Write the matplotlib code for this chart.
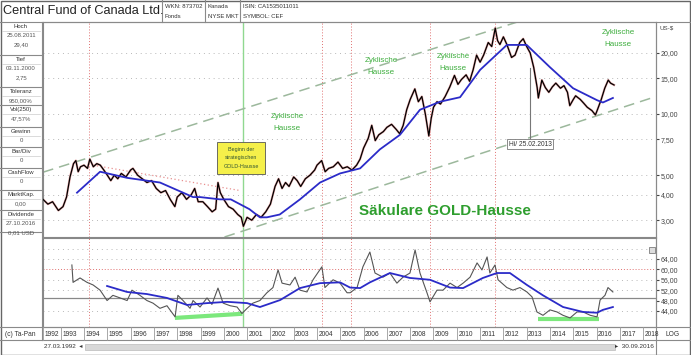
import matplotlib
matplotlib.use("Agg")
import matplotlib.pyplot as plt
from matplotlib.patches import Rectangle

plt.rcParams['font.family'] = ['Liberation Sans', 'DejaVu Sans']

W, H = 691, 355

# --- data ---
price_dates = [1992.24, 1992.45, 1992.65, 1992.9, 1993.1, 1993.25, 1993.4, 1993.55, 1993.65, 1993.75,
               1993.85, 1994.0, 1994.15, 1994.25, 1994.4, 1994.55, 1994.7, 1994.85, 1995.0, 1995.15,
               1995.3, 1995.45, 1995.6, 1995.8, 1996.0, 1996.1, 1996.3, 1996.5, 1996.7, 1996.9,
               1997.1, 1997.3, 1997.5, 1997.7, 1997.9, 1998.0, 1998.2, 1998.4, 1998.6, 1998.75,
               1998.9, 1999.1, 1999.3, 1999.5, 1999.65, 1999.75, 1999.85, 2000.0, 2000.2, 2000.4,
               2000.6, 2000.75, 2000.84, 2001.0, 2001.2, 2001.4, 2001.6, 2001.8, 2002.0, 2002.2,
               2002.35, 2002.5, 2002.65, 2002.8, 2003.0, 2003.15, 2003.3, 2003.5, 2003.7, 2003.9,
               2004.0, 2004.2, 2004.35, 2004.5, 2004.7, 2004.9, 2005.1, 2005.3, 2005.5, 2005.7,
               2005.85, 2006.0, 2006.2, 2006.35, 2006.5, 2006.65, 2006.85, 2007.0, 2007.2, 2007.4,
               2007.55, 2007.7, 2007.85, 2008.0, 2008.2, 2008.35, 2008.5, 2008.65, 2008.8, 2008.9,
               2009.0, 2009.15, 2009.3, 2009.5, 2009.7, 2009.9, 2010.05, 2010.2, 2010.4, 2010.55,
               2010.7, 2010.85, 2011.0, 2011.15, 2011.35, 2011.5, 2011.65, 2011.75, 2011.85, 2012.0,
               2012.15, 2012.35, 2012.5, 2012.7, 2012.85, 2013.0, 2013.15, 2013.3, 2013.45, 2013.5,
               2013.65, 2013.8, 2013.95, 2014.1, 2014.25, 2014.45, 2014.6, 2014.75, 2014.85, 2015.0,
               2015.1, 2015.3, 2015.45, 2015.6, 2015.8, 2015.95, 2016.05, 2016.2, 2016.35, 2016.5,
               2016.6, 2016.75]
price_values = [3.8, 3.6, 3.7, 3.35, 3.5, 3.9, 4.9, 5.7, 5.9, 5.2,
                5.5, 5.6, 5.4, 6.0, 5.5, 5.7, 5.6, 5.3, 5.0, 4.7,
                5.0, 4.8, 5.1, 4.9, 5.3, 5.4, 5.0, 4.8, 4.6, 4.7,
                4.3, 4.1, 4.2, 3.8, 3.5, 3.9, 4.1, 3.8, 4.0, 4.3,
                3.7, 3.7, 3.5, 3.3, 3.4, 4.6, 4.1, 3.8, 3.5, 3.4,
                3.2, 3.1, 2.8, 3.1, 3.0, 3.2, 3.1, 3.3, 3.6, 4.4,
                4.8, 4.3, 4.6, 4.4, 4.9, 4.7, 4.4, 4.8, 5.0, 5.3,
                5.6, 5.9, 5.2, 5.4, 5.5, 5.8, 5.4, 5.5, 5.3, 5.6,
                6.0, 6.8, 7.6, 8.8, 7.4, 7.9, 8.2, 8.6, 8.9, 8.4,
                8.0, 8.8, 10.5, 11.8, 13.3, 11.5, 12.2, 10.0, 7.8, 9.5,
                10.8, 11.5, 11.2, 12.2, 13.6, 15.5, 14.0, 14.8, 15.6, 14.5,
                16.5, 19.5, 18.0, 19.5, 22.5, 21.5, 26.5, 23.0, 22.0, 24.0,
                22.0, 19.0, 19.5, 22.5, 23.5, 21.5, 20.0, 17.0, 13.5, 12.0,
                14.7, 13.5, 12.8, 13.6, 14.2, 13.4, 13.8, 12.8, 11.0, 11.8,
                12.3, 11.8, 11.3, 10.8, 10.4, 9.9, 10.6, 11.8, 13.4, 14.7,
                14.2, 13.9]

ma_dates = [1993.7, 1994.69, 1995.85, 1997.26, 1998.68, 1998.98, 1999.84, 2000.3, 2001.1, 2001.55,
            2001.85, 2002.4, 2003.27, 2004.13, 2004.99, 2005.85, 2006.7, 2007.56, 2008.42, 2009.28,
            2010.14, 2011.0, 2012.15, 2013.0, 2014.0, 2014.99, 2016.02, 2016.27, 2016.7]
ma_values = [4.1, 5.2, 4.85, 4.6, 3.9, 3.9, 3.8, 3.8, 3.4, 3.1,
             3.1, 3.2, 3.8, 4.6, 5.1, 5.4, 6.7, 7.9, 10.5, 11.5,
             12.1, 16.5, 21.9, 21.9, 17.0, 13.4, 11.7, 11.4, 12.0]

osc_dates = [1993.48, 1993.53, 1993.83, 1994.13, 1994.39, 1994.69, 1994.99, 1995.24, 1995.55, 1995.85,
             1996.06, 1996.40, 1996.70, 1996.96, 1997.26, 1997.56, 1997.91, 1998.03, 1998.25, 1998.55,
             1998.68, 1998.98, 1999.28, 1999.49, 1999.75, 1999.97, 2000.27, 2000.57, 2000.78, 2001.0,
             2001.25, 2001.55, 2001.85, 2002.11, 2002.33, 2002.50, 2002.84, 2003.06, 2003.27, 2003.57,
             2003.83, 2004.21, 2004.34, 2004.69, 2004.99, 2005.29, 2005.42, 2005.72, 2005.97, 2006.27,
             2006.49, 2006.83, 2007.13, 2007.43, 2007.69, 2007.99, 2008.21, 2008.42, 2008.72, 2008.85,
             2009.15, 2009.41, 2009.71, 2010.01, 2010.27, 2010.57, 2010.87, 2011.08, 2011.30, 2011.42,
             2011.64, 2011.77, 2012.15, 2012.41, 2012.71, 2013.01, 2013.23, 2013.44, 2013.70, 2014.0,
             2014.30, 2014.56, 2014.86, 2015.16, 2015.42, 2015.73, 2016.02, 2016.15, 2016.36, 2016.49,
             2016.70]
osc_values = [61.7, 55, 56.7, 55, 54, 52, 48, 50, 49, 48,
              52, 50, 48, 47, 45, 46, 41.7, 50, 48, 45,
              48, 45.5, 49, 46.5, 52.8, 47, 46, 45.5, 43, 45,
              47, 48, 51, 53, 59.8, 54.7, 54, 57, 52, 51.3,
              56, 61, 53, 56, 54.7, 51, 51, 53, 61, 66.7,
              58.6, 57, 58.6, 54.7, 57, 58.6, 67.5, 58.6, 51, 47.5,
              52, 52, 54.7, 53, 54.7, 57, 62.5, 59.8, 64.8, 58.6,
              61.7, 56, 53, 52, 53, 51.3, 49.4, 43.6, 42.3, 44.4,
              43.6, 42.3, 41.3, 43.6, 43.6, 42.3, 41.7, 48.2, 50, 53,
              51.3]

osc_ma_dates = [1994.99, 1995.85, 1996.70, 1997.56, 1998.42, 1999.28, 2000.14, 2001.0, 2001.55, 2002.42,
                2003.27, 2004.13, 2004.99, 2005.42, 2005.85, 2006.27, 2007.13, 2007.99, 2008.85, 2009.71,
                2010.27, 2011.12, 2011.72, 2012.28, 2013.01, 2013.70, 2014.56, 2015.42, 2016.02, 2016.27,
                2016.70]
osc_ma_values = [53.6, 51.3, 50.5, 49, 46.3, 47, 47.5, 47, 45.5, 48.2,
                 52.8, 54.7, 55, 53, 52.8, 55, 58.6, 56.7, 56, 53,
                 52.8, 56.7, 58.6, 58.6, 54, 50, 45.5, 43.6, 43.3, 44.4,
                 45.5]

support_dates = [[1997.9, 2000.8], [2013.5, 2016.1]]
support_values = [[41.3, 42.9], [41.0, 41.0]]

upper_channel = ([1992.24, 2012.6], [5.17, 28.4])
lower_channel = ([2000.03, 2018.55], [2.48, 12.2])
down_trend = ([1994.39, 2000.7], [5.6, 4.2])

price_ticks = [3, 4, 5, 7.5, 10, 15, 20]
osc_ticks = [44, 48, 52, 56, 60, 64]
red_vlines = [1994.2, 2004.2, 2005.45, 2008.85, 2011.62]
green_vline = 2000.84
years = list(range(1992, 2019))

sidebar = [("Hoch", ["25.08.2011", "29,40"]),
           ("Tief", ["03.11.2000", "2,75"]),
           ("Toleranz", ["950,00%"]),
           ("Vol(250)", ["47,57%"]),
           ("Gewinn", ["0"]),
           ("Bar/Div", ["0"]),
           ("CashFlow", ["0"]),
           ("MarktKap.", ["0,00"]),
           ("Dividende", ["27.10.2016", "0,01 USD"])]
sidebar_edges = [22, 55, 87, 105, 127, 147, 168, 190, 210, 232]

XMIN, XMAX = 1992.24, 2018.55


def frect(x0, y0, x1, y1):
    return [x0 / W, 1 - y1 / H, (x1 - x0) / W, (y1 - y0) / H]


def fmt(v):
    return f"{v:.2f}".replace(".", ",")


fig = plt.figure(figsize=(W / 100, H / 100), dpi=100)
GREEN_TXT = '#3fae3f'
GRID = '#b8b8b8'

# --- main price panel ---
ax = fig.add_axes(frect(43, 22, 656, 237))
ax.set_yscale('log')
ax.set_xlim(XMIN, XMAX)
ax.set_ylim(2.48, 28.4)
ax.set_yticks(price_ticks)
ax.set_yticklabels([fmt(t) for t in price_ticks])
ax.yaxis.set_minor_locator(matplotlib.ticker.NullLocator())
ax.yaxis.tick_right()
ax.tick_params(axis='y', labelsize=5, length=2, pad=1.5, colors='#444444')
ax.set_xticks([])
for s in ax.spines.values():
    s.set_color('#888888')
    s.set_linewidth(0.8)
for t in price_ticks:
    ax.axhline(t, color=GRID, ls=(0, (1, 4)), lw=0.7, zorder=0)
for d in red_vlines:
    ax.axvline(d, color='#e07070', ls=(0, (1, 2)), lw=0.7, zorder=0)
ax.axvline(green_vline, color='#90d890', lw=1.0, zorder=0)

ax.plot(*upper_channel, color='#9cb89c', lw=1.1, ls=(0, (7, 4)), zorder=1)
ax.plot(*lower_channel, color='#9cb89c', lw=1.1, ls=(0, (7, 4)), zorder=1)
ax.plot(*down_trend, color='#e89090', lw=0.9, ls=(0, (1, 2)), zorder=1)

ax.plot(price_dates, price_values, color='#e8a8a8', lw=1.6, zorder=2)
ax.plot(price_dates, price_values, color='black', lw=0.9, zorder=3)
ax.plot(ma_dates, ma_values, color='#2b2bc8', lw=1.3, zorder=4)

# Hi annotation
ax.plot([2013.14, 2013.14], [7.45, 16.9], color='#777777', lw=0.8, zorder=5)
ax.text(2013.14, 7.1, "Hi/ 25.02.2013", fontsize=4.8, ha='center', va='center', color='#333333',
        bbox=dict(boxstyle='square,pad=0.25', fc='white', ec='#777777', lw=0.6), zorder=6)

# --- oscillator panel ---
ax2 = fig.add_axes(frect(43, 238, 656, 327))
ax2.set_xlim(XMIN, XMAX)
ax2.set_ylim(37.8, 72.1)
ax2.set_yticks(osc_ticks)
ax2.set_yticklabels([fmt(t) for t in osc_ticks])
ax2.yaxis.tick_right()
ax2.tick_params(axis='y', labelsize=5, length=2, pad=1.5, colors='#444444')
ax2.set_xticks([])
for s in ax2.spines.values():
    s.set_color('#888888')
    s.set_linewidth(0.8)
for t in [44, 52, 56, 64, 68]:
    ax2.axhline(t, color=GRID, ls=(0, (1, 4)), lw=0.7, zorder=0)
ax2.axhline(60, color='#e07070', ls=(0, (1, 2)), lw=0.7, zorder=0)
ax2.axhline(49, color='#888888', lw=0.9, zorder=0)
for d in red_vlines:
    ax2.axvline(d, color='#e07070', ls=(0, (1, 2)), lw=0.7, zorder=0)
ax2.axvline(green_vline, color='#90d890', lw=1.0, zorder=0)
for sd, sv in zip(support_dates, support_values):
    ax2.plot(sd, sv, color='#7ce87c', lw=3.0, solid_capstyle='butt', zorder=1)
ax2.plot(osc_dates, osc_values, color='#555555', lw=0.8, zorder=2)
ax2.plot(osc_ma_dates, osc_ma_values, color='#2b2bc8', lw=1.3, zorder=3)

# --- overlay for frame, header, sidebar, date row ---
ov = fig.add_axes([0, 0, 1, 1], facecolor='none')
ov.set_xlim(0, W)
ov.set_ylim(H, 0)
ov.axis('off')
LC = '#8a8a8a'


def hline(y, x0, x1, **kw):
    ov.plot([x0, x1], [y, y], color=kw.get('c', LC), lw=kw.get('lw', 0.8))


def vline(x, y0, y1, **kw):
    ov.plot([x, x], [y0, y1], color=kw.get('c', LC), lw=kw.get('lw', 0.8))


ov.add_patch(Rectangle((0.5, 0.5), W - 1, H - 1, fill=False, ec='#666666', lw=1.0))
hline(22, 0, W)
vline(162, 0, 22)
vline(205, 0, 22)
vline(240, 0, 22)
ov.text(3, 11.5, "Central Fund of Canada Ltd.", fontsize=9.2, va='center', ha='left',
        color='#222222')
ov.text(165, 6.5, "WKN: 873702", fontsize=4.3, va='center', color='#333333')
ov.text(165, 16, "Fonds", fontsize=4.3, va='center', color='#333333')
ov.text(208, 6.5, "Kanada", fontsize=4.3, va='center', color='#333333')
ov.text(208, 16, "NYSE MKT", fontsize=4.3, va='center', color='#333333')
ov.text(243, 6.5, "ISIN: CA1535011011", fontsize=4.3, va='center', color='#333333')
ov.text(243, 16, "SYMBOL: CEF", fontsize=4.3, va='center', color='#333333')

# sidebar
vline(42, 22, 340)
for (head, vals), y0, y1 in zip(sidebar, sidebar_edges[:-1], sidebar_edges[1:]):
    hline(y1, 0, 42)
    ov.text(21, y0 + 4.5, head, fontsize=4.3, ha='center', va='center', color='#333333')
    hline(y0 + 8.5, 2, 40, c='#cccccc', lw=0.5)
    for i, v in enumerate(vals):
        ov.text(21, y0 + 13.5 + i * 9, v, fontsize=4.3, ha='center', va='center', color='#555555')

ov.text(660, 28, "US-$", fontsize=4.5, va='center', color='#444444')

# year row and date row
hline(327, 0, W)
hline(340, 0, W)
vline(656, 22, 355)
ov.text(5, 334, "(c) Ta-Pan", fontsize=4.8, va='center', color='#333333')
ov.text(673, 334, "LOG", fontsize=4.8, va='center', ha='center', color='#333333')
px_per_year = 613 / (XMAX - XMIN)
last_end = 0
for yr in years:
    x = 43 + (max(yr, XMIN) - XMIN) * px_per_year
    x = max(x, last_end)
    if x > 652:
        break
    vline(x, 327, 340, c='#9a9a9a', lw=0.6)
    ov.text(x + 1.5, 334, str(yr), fontsize=4.8, va='center', color='#333333', clip_on=True)
    last_end = x + 10
ov.add_patch(Rectangle((85, 343.5), 530, 6, fc='#d8d8d8', ec='#bbbbbb', lw=0.5))
ov.text(44, 347, "27.03.1992  \u25c2", fontsize=4.6, va='center', color='#333333')
ov.text(654, 347, "\u25b8  30.09.2016", fontsize=4.6, va='center', ha='right', color='#333333')

# annotations on the chart
for cx, cy in [(287, 116), (381, 60), (453, 57), (618, 33)]:
    ov.text(cx, cy, "Zyklische", fontsize=5.8, ha='center', va='center', color=GREEN_TXT)
    ov.text(cx, cy + 12, "Hausse", fontsize=5.8, ha='center', va='center', color=GREEN_TXT)
ov.text(445, 211, "Säkulare GOLD-Hausse", fontsize=11, fontweight='bold', ha='center',
        va='center', color='#2e9e2e')
ov.add_patch(Rectangle((217, 142), 48, 32, fc='#f5f04a', ec='#555555', lw=0.6))
for i, line in enumerate(["Beginn der", "strategischen", "GOLD-Hausse"]):
    ov.text(241, 149 + i * 9, line, fontsize=3.9, ha='center', va='center', color='#335533')
ov.add_patch(Rectangle((649, 247), 6, 6, fc='#dddddd', ec='#666666', lw=0.5))

fig.savefig('out.png', dpi=100)
